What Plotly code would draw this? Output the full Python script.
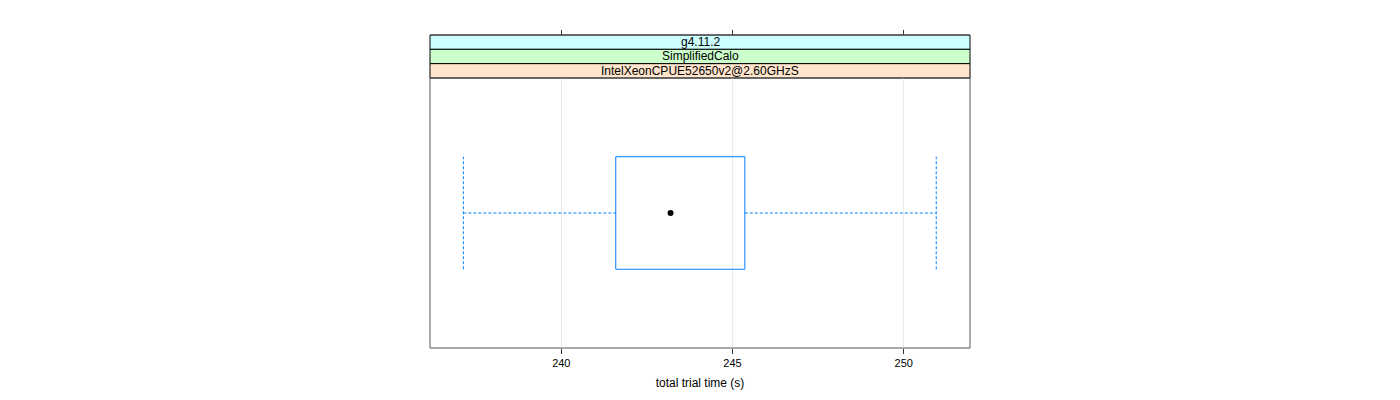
import plotly.graph_objects as go

# ---- data ----
strip_labels = ["g4.11.2", "SimplifiedCalo", "IntelXeonCPUE52650v2@2.60GHzS"]
strip_colors = ["#CCFFFF", "#CCFFCC", "#FFE5CC"]
lower_whisker = [237.14]
q1 = [241.59]
median = [243.19]
q3 = [245.36]
upper_whisker = [250.95]
tick_values = [240, 245, 250]
tick_labels = ["240", "245", "250"]
x_title = "total trial time (s)"

# ---- layout constants (page body has an 8px margin) ----
W, H = 1400, 400
off = 8
ml, mt = 430 - off, 35 - off
panel_w = 540
mr = W - ml - panel_w
panel_bottom = 348 - off
mb = H - panel_bottom
paper_h = H - mt - mb
panel_h = 348 - 78
dom_top = panel_h / paper_h
strip_h = (1 - dom_top) / len(strip_labels)
xr = [236.165, 251.936]
yr = [0.4, 1.6]
half = 0.25
pos = 1.0
box_col = "#0080ff"
font = "Liberation Sans, Arial, Helvetica, sans-serif"

fig = go.Figure()

for i in range(len(q1)):
    # box
    fig.add_trace(go.Scatter(
        x=[q1[i], q3[i], q3[i], q1[i], q1[i]],
        y=[pos - half, pos - half, pos + half, pos + half, pos - half],
        mode="lines", line=dict(color=box_col, width=1), hoverinfo="skip"))
    # whiskers (dashed)
    for xs, ys in [
        ([lower_whisker[i], q1[i]], [pos, pos]),
        ([q3[i], upper_whisker[i]], [pos, pos]),
        ([lower_whisker[i], lower_whisker[i]], [pos - half, pos + half]),
        ([upper_whisker[i], upper_whisker[i]], [pos - half, pos + half]),
    ]:
        fig.add_trace(go.Scatter(x=xs, y=ys, mode="lines",
                                 line=dict(color=box_col, width=1, dash="3px,2px"),
                                 hoverinfo="skip"))
    # median dot
    fig.add_trace(go.Scatter(x=[median[i]], y=[pos], mode="markers",
                             marker=dict(color="black", size=6), hoverinfo="skip"))

# dummy trace for top axis
fig.add_trace(go.Scatter(x=[xr[0]], y=[pos], xaxis="x2", mode="markers",
                         marker=dict(opacity=0), hoverinfo="skip"))

shapes = []
# panel border
shapes.append(dict(type="rect", xref="paper", yref="paper", x0=0, x1=1, y0=0, y1=dom_top,
                   line=dict(color="#555555", width=1), layer="above"))
annotations = []
for k, (lab, col) in enumerate(zip(strip_labels, strip_colors)):
    y1 = 1 - k * strip_h
    y0 = y1 - strip_h
    shapes.append(dict(type="rect", xref="paper", yref="paper", x0=0, x1=1, y0=y0, y1=y1,
                       fillcolor=col, line=dict(color="black", width=1), layer="below"))
    annotations.append(dict(xref="paper", yref="paper", x=0.5, y=(y0 + y1) / 2,
                            text=lab, showarrow=False, xanchor="center", yanchor="middle",
                            font=dict(family=font, size=12, color="black")))
shapes.append(dict(type="line", xref="paper", yref="paper", x0=0, x1=1, y0=1, y1=1,
                   line=dict(color="#555555", width=1)))

fig.update_layout(
    width=W, height=H,
    margin=dict(l=ml, r=mr, t=mt, b=mb),
    paper_bgcolor="white", plot_bgcolor="white",
    showlegend=False,
    font=dict(family=font, size=12, color="black"),
    xaxis=dict(range=xr, tickvals=tick_values, ticktext=tick_labels,
               ticks="outside", ticklen=5, tickcolor="#333333",
               showgrid=True, gridcolor="#EBEBEB", gridwidth=1,
               zeroline=False, showline=False,
               title=dict(text=x_title, standoff=10, font=dict(size=12)),
               tickfont=dict(size=11)),
    xaxis2=dict(range=xr, tickvals=tick_values, overlaying="x", side="top",
                anchor="free", position=1, ticks="outside", ticklen=5,
                tickcolor="#333333", showticklabels=False, showgrid=False,
                zeroline=False, showline=False),
    yaxis=dict(range=yr, domain=[0, dom_top], showticklabels=False, ticks="",
               showgrid=False, zeroline=False, showline=False),
    shapes=shapes,
    annotations=annotations,
)

fig.write_html("out.html")
